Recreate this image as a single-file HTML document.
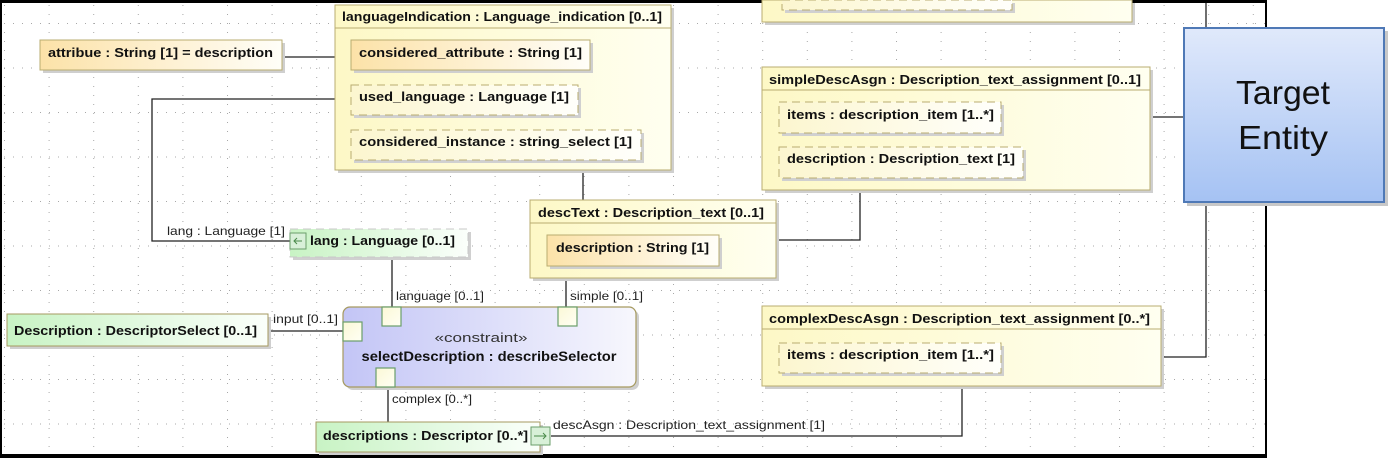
<!DOCTYPE html>
<html><head><meta charset="utf-8"><style>
html,body{margin:0;padding:0;background:#fff;}
svg{display:block;}
text{font-family:"Liberation Sans",Arial,sans-serif;}
.b{font-weight:bold;font-size:13px;fill:#111;}
.l{font-size:12px;fill:#222;}
</style></head><body>
<svg width="1392" height="458" viewBox="0 0 1392 458" xmlns="http://www.w3.org/2000/svg">
<defs>
<pattern id="gh" x="4" y="23" width="9" height="44.5" patternUnits="userSpaceOnUse"><rect x="0" y="0" width="1" height="1" fill="#a8a8a8"/></pattern>
<pattern id="gv" x="4" y="5" width="44.6" height="9" patternUnits="userSpaceOnUse"><rect x="0" y="0" width="1" height="1" fill="#a8a8a8"/></pattern>
<linearGradient id="cont" x1="0" x2="1"><stop offset="0" stop-color="#fdf8c6"/><stop offset="1" stop-color="#fffff0"/></linearGradient>
<linearGradient id="org" x1="0" x2="1"><stop offset="0" stop-color="#fce2a8"/><stop offset="1" stop-color="#fffef8"/></linearGradient>
<linearGradient id="yel" x1="0" x2="1"><stop offset="0" stop-color="#fcf6cf"/><stop offset="1" stop-color="#fffffb"/></linearGradient>
<linearGradient id="grn" x1="0" x2="1"><stop offset="0" stop-color="#c8f3c4"/><stop offset="1" stop-color="#fbfffb"/></linearGradient>
<linearGradient id="con" x1="0" x2="1"><stop offset="0" stop-color="#c3c5f6"/><stop offset="1" stop-color="#f7f7fd"/></linearGradient>
<linearGradient id="tgt" x1="0" y1="0" x2="0" y2="1"><stop offset="0" stop-color="#e0e9fb"/><stop offset="1" stop-color="#a5c2f3"/></linearGradient>
<linearGradient id="port" x1="0" y1="0" x2="1" y2="1"><stop offset="0" stop-color="#fbf8d6"/><stop offset="1" stop-color="#fffff4"/></linearGradient>
</defs>
<rect width="1392" height="458" fill="#fff"/>
<rect x="3" y="3" width="1262" height="451" fill="url(#gh)"/>
<rect x="3" y="3" width="1262" height="451" fill="url(#gv)"/>
<rect x="0" y="0" width="1266" height="3" fill="#000"/>
<rect x="0" y="0" width="2" height="458" fill="#000"/>
<rect x="0" y="454" width="1266" height="4" fill="#000"/>
<rect x="1265" y="0" width="2" height="458" fill="#000"/>

<g stroke="#222" stroke-width="1.3" fill="none">
<path d="M282 57H351"/>
<path d="M351 99H152V241H290"/>
<path d="M583 160V200"/>
<path d="M392 257V307"/>
<path d="M566 266V307"/>
<path d="M776 240H860V178"/>
<path d="M268 331H343"/>
<path d="M388 387V422"/>
<path d="M551 436H962V386"/>
<path d="M1001 117H1185"/>
<path d="M1206 3V27M1206 203V357H1001"/>
</g>

<g fill="#cfcfcf">
<rect x="765" y="3" width="370" height="22"/>
<rect x="338" y="8" width="336" height="165"/>
<rect x="43" y="43" width="242" height="30"/>
<rect x="533" y="203" width="246" height="78"/>
<rect x="765" y="70" width="388" height="123"/>
<rect x="765" y="309" width="399" height="80"/>
<rect x="10" y="317" width="261" height="32"/>
<rect x="319" y="425" width="224" height="30"/>
<rect x="346" y="310" width="293" height="80" rx="7"/>
</g>

<rect x="762" y="0" width="370" height="22" fill="url(#cont)" stroke="#b9ac70"/>
<rect x="785" y="3" width="230" height="10" fill="#d0d0d0"/>
<rect x="782" y="0" width="230" height="10" fill="url(#yel)" stroke="#b9ac70" stroke-dasharray="8,5"/>

<rect x="335" y="5" width="336" height="165" fill="url(#cont)" stroke="#b9ac70"/>
<line x1="335" y1="28" x2="671" y2="28" stroke="#b9ac70"/>
<text class="b" x="342" y="21" textLength="320" lengthAdjust="spacingAndGlyphs">languageIndication : Language_indication [0..1]</text>
<rect x="354" y="43" width="239" height="30" fill="#cfcfcf"/>
<rect x="351" y="40" width="239" height="30" fill="url(#org)" stroke="#b9ac70"/>
<text class="b" x="359" y="57" textLength="223" lengthAdjust="spacingAndGlyphs">considered_attribute : String [1]</text>
<rect x="354" y="88" width="227" height="30" fill="#d0d0d0"/>
<rect x="351" y="85" width="227" height="30" fill="url(#yel)" stroke="#b9ac70" stroke-dasharray="8,5"/>
<text class="b" x="359" y="101" textLength="210" lengthAdjust="spacingAndGlyphs">used_language : Language [1]</text>
<rect x="354" y="133" width="290" height="30" fill="#d0d0d0"/>
<rect x="351" y="130" width="290" height="30" fill="url(#yel)" stroke="#b9ac70" stroke-dasharray="8,5"/>
<text class="b" x="359" y="146" textLength="273" lengthAdjust="spacingAndGlyphs">considered_instance : string_select [1]</text>

<rect x="40" y="40" width="242" height="30" fill="url(#org)" stroke="#b9ac70"/>
<text class="b" x="48" y="57" textLength="225" lengthAdjust="spacingAndGlyphs">attribue : String [1] = description</text>

<text class="l" x="167" y="235" textLength="118" lengthAdjust="spacingAndGlyphs">lang : Language [1]</text>
<rect x="293" y="232" width="178" height="28" fill="#d0d0d0"/>
<rect x="290" y="229" width="178" height="28" fill="url(#grn)" stroke="#c8c8c8" stroke-dasharray="8,5"/>
<rect x="290" y="233" width="16" height="16" fill="#d8f0d8" stroke="#6a9e6a"/>
<path d="M302 241H294M297 238L294 241L297 244" stroke="#4a8a4a" fill="none"/>
<text class="b" x="310" y="245" textLength="145" lengthAdjust="spacingAndGlyphs">lang : Language [0..1]</text>

<rect x="530" y="200" width="246" height="78" fill="url(#cont)" stroke="#b9ac70"/>
<line x1="530" y1="223" x2="776" y2="223" stroke="#b9ac70"/>
<text class="b" x="538" y="217" textLength="226" lengthAdjust="spacingAndGlyphs">descText : Description_text [0..1]</text>
<rect x="550" y="238" width="172" height="31" fill="#cfcfcf"/>
<rect x="547" y="235" width="172" height="31" fill="url(#org)" stroke="#b9ac70"/>
<text class="b" x="556" y="252" textLength="153" lengthAdjust="spacingAndGlyphs">description : String [1]</text>

<rect x="762" y="67" width="388" height="123" fill="url(#cont)" stroke="#b9ac70"/>
<line x1="762" y1="90" x2="1150" y2="90" stroke="#b9ac70"/>
<text class="b" x="769" y="84" textLength="372" lengthAdjust="spacingAndGlyphs">simpleDescAsgn : Description_text_assignment [0..1]</text>
<rect x="782" y="105" width="222" height="31" fill="#d0d0d0"/>
<rect x="779" y="102" width="222" height="31" fill="url(#yel)" stroke="#b9ac70" stroke-dasharray="8,5"/>
<text class="b" x="787" y="119" textLength="207" lengthAdjust="spacingAndGlyphs">items : description_item [1..*]</text>
<rect x="782" y="150" width="244" height="31" fill="#d0d0d0"/>
<rect x="779" y="147" width="244" height="31" fill="url(#yel)" stroke="#b9ac70" stroke-dasharray="8,5"/>
<text class="b" x="787" y="163" textLength="228" lengthAdjust="spacingAndGlyphs">description : Description_text [1]</text>

<rect x="762" y="306" width="399" height="80" fill="url(#cont)" stroke="#b9ac70"/>
<line x1="762" y1="329" x2="1161" y2="329" stroke="#b9ac70"/>
<text class="b" x="769" y="323" textLength="381" lengthAdjust="spacingAndGlyphs">complexDescAsgn : Description_text_assignment [0..*]</text>
<rect x="782" y="346" width="222" height="30" fill="#d0d0d0"/>
<rect x="779" y="343" width="222" height="30" fill="url(#yel)" stroke="#b9ac70" stroke-dasharray="8,5"/>
<text class="b" x="787" y="359" textLength="207" lengthAdjust="spacingAndGlyphs">items : description_item [1..*]</text>

<rect x="7" y="314" width="261" height="32" fill="url(#grn)" stroke="#a69a60"/>
<text class="b" x="14" y="335" textLength="243" lengthAdjust="spacingAndGlyphs">Description : DescriptorSelect [0..1]</text>
<text class="l" x="273" y="323" textLength="65" lengthAdjust="spacingAndGlyphs">input [0..1]</text>

<rect x="343" y="307" width="293" height="80" rx="7" fill="url(#con)" stroke="#a69a60" stroke-width="1.2"/>
<text x="481" y="342" text-anchor="middle" textLength="93" lengthAdjust="spacingAndGlyphs" style="font-size:13px;fill:#333">«constraint»</text>
<text class="b" x="489" y="361" text-anchor="middle" textLength="255" lengthAdjust="spacingAndGlyphs" style="font-size:14px">selectDescription : describeSelector</text>
<g fill="url(#port)" stroke="#6a9e6a" stroke-width="1.2">
<rect x="382" y="307" width="19" height="19"/>
<rect x="558" y="307" width="19" height="19"/>
<rect x="343" y="322" width="19" height="19"/>
<rect x="376" y="368" width="19" height="19"/>
</g>
<text class="l" x="396" y="300" textLength="88" lengthAdjust="spacingAndGlyphs">language [0..1]</text>
<text class="l" x="570" y="300" textLength="73" lengthAdjust="spacingAndGlyphs">simple [0..1]</text>
<text class="l" x="392" y="403" textLength="80" lengthAdjust="spacingAndGlyphs">complex [0..*]</text>

<rect x="316" y="422" width="224" height="30" fill="url(#grn)" stroke="#a69a60"/>
<text class="b" x="323" y="440" textLength="205" lengthAdjust="spacingAndGlyphs">descriptions : Descriptor [0..*]</text>
<rect x="531" y="427" width="19" height="18" fill="#d8f0d8" stroke="#6a9e6a"/>
<path d="M534 436H546M543 433L546 436L543 439" stroke="#4a8a4a" fill="none"/>
<text class="l" x="553" y="429" textLength="272" lengthAdjust="spacingAndGlyphs">descAsgn : Description_text_assignment [1]</text>

<rect x="1187" y="31" width="201" height="175" fill="#c8c8c8"/>
<rect x="1184" y="28" width="200" height="174" fill="url(#tgt)" stroke="#4f79b6" stroke-width="2"/>
<text x="1283" y="104" text-anchor="middle" textLength="94" lengthAdjust="spacingAndGlyphs" style="font-size:33px;fill:#111">Target</text>
<text x="1283" y="149" text-anchor="middle" textLength="90" lengthAdjust="spacingAndGlyphs" style="font-size:33px;fill:#111">Entity</text>
</svg>
</body></html>
